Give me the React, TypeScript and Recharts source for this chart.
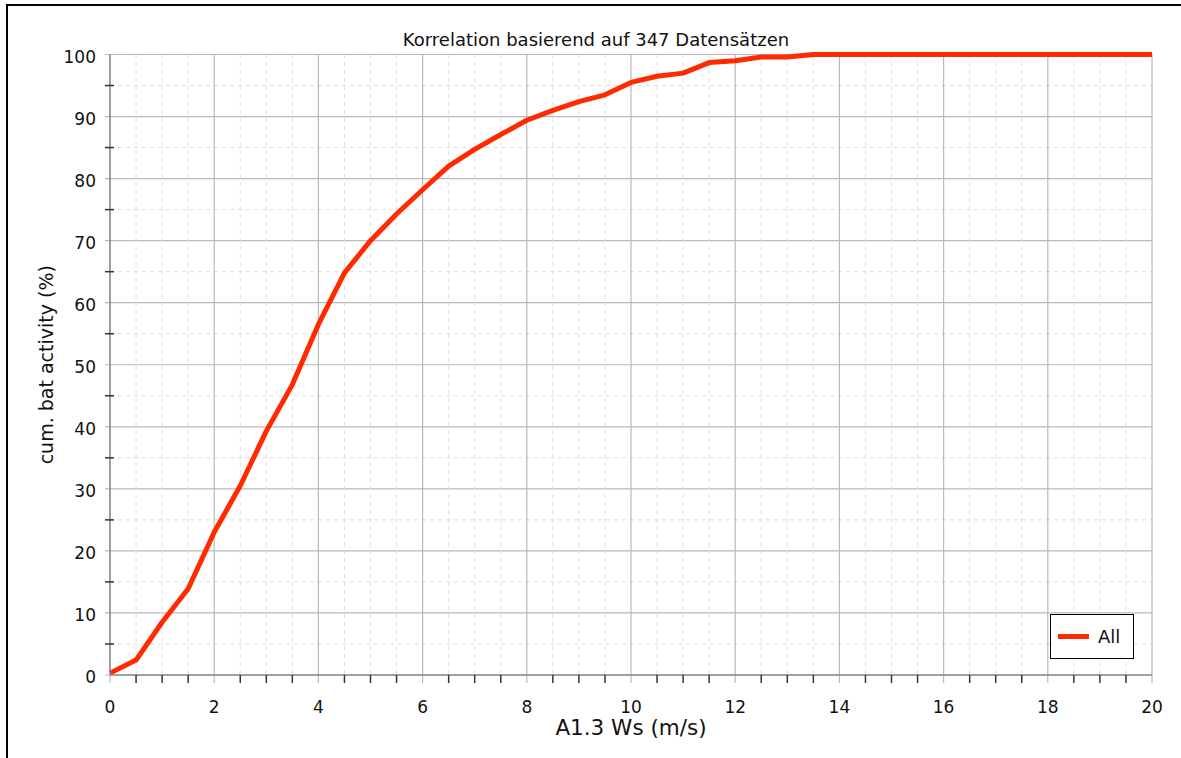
import React from 'react';
import { LineChart, Line, XAxis, YAxis, CartesianGrid, Legend } from 'recharts';

const windSpeed = [
  0, 0.5, 1, 1.5, 2, 2.5, 3, 3.5, 4, 4.5, 5, 5.5, 6, 6.5, 7, 7.5, 8, 8.5, 9, 9.5, 10,
  10.5, 11, 11.5, 12, 12.5, 13, 13.5, 14, 14.5, 15, 15.5, 16, 16.5, 17, 17.5, 18, 18.5, 19, 19.5, 20,
];
const cumActivity = [
  0.3, 2.4, 8.5, 13.9, 23, 30.5, 39.3, 46.8, 56.5, 64.8, 70, 74.3, 78.2, 82, 84.7, 87.1, 89.4, 91, 92.4, 93.5, 95.5,
  96.5, 97, 98.7, 99, 99.6, 99.6, 100, 100, 100, 100, 100, 100, 100, 100, 100, 100, 100, 100, 100, 100,
];
const xTicks = [
  0, 0.5, 1, 1.5, 2, 2.5, 3, 3.5, 4, 4.5, 5, 5.5, 6, 6.5, 7, 7.5, 8, 8.5, 9, 9.5, 10,
  10.5, 11, 11.5, 12, 12.5, 13, 13.5, 14, 14.5, 15, 15.5, 16, 16.5, 17, 17.5, 18, 18.5, 19, 19.5, 20,
];
const yTicks = [0, 5, 10, 15, 20, 25, 30, 35, 40, 45, 50, 55, 60, 65, 70, 75, 80, 85, 90, 95, 100];
const seriesName = 'All';

const data = windSpeed.map((ws, i) => ({ ws, activity: cumActivity[i] }));

const FONT = '"DejaVu Sans", Verdana, sans-serif';
const RED = '#ff2a00';
const MAJOR = '#b9b9b9';
const MINOR = '#dcdcdc';
const TICK = '#333';
const X_MARGIN = 10;
const Y_MARGIN = 14;

const XTick = (props: any) => {
  const { x, y, payload } = props;
  const major = payload.value % 2 === 0;
  const axisY = y - X_MARGIN;
  return (
    <g>
      {!major && <line x1={x} x2={x} y1={axisY} y2={axisY + 8} stroke={TICK} strokeWidth={1.5} />}
      {major && (
        <text x={x} y={axisY + 38} textAnchor="middle" fontSize={17} fontFamily={FONT} fill="#111">
          {payload.value}
        </text>
      )}
    </g>
  );
};

const YTick = (props: any) => {
  const { x, y, payload } = props;
  const major = payload.value % 10 === 0;
  const axisX = x + Y_MARGIN;
  return (
    <g>
      {!major && <line x1={axisX - 5} x2={axisX + 4} y1={y} y2={y} stroke={TICK} strokeWidth={1.5} />}
      {major && (
        <text x={x} y={y + 8} textAnchor="end" fontSize={17} fontFamily={FONT} fill="#111">
          {payload.value}
        </text>
      )}
    </g>
  );
};

const vLine = (p: any) => {
  const major = p.index % 4 === 0;
  return (
    <line
      key={p.key}
      x1={p.x1}
      x2={p.x2}
      y1={p.y1}
      y2={major ? p.y2 + 8 : p.y2}
      stroke={major ? MAJOR : MINOR}
      strokeWidth={major ? 1.2 : 1}
      strokeDasharray={major ? undefined : '4 4'}
    />
  );
};

const hLine = (p: any) => {
  const major = p.index % 2 === 0;
  return (
    <line
      key={p.key}
      x1={major ? p.x1 - 5 : p.x1}
      x2={p.x2}
      y1={p.y1}
      y2={p.y2}
      stroke={major ? MAJOR : MINOR}
      strokeWidth={major ? 1.2 : 1}
      strokeDasharray={major ? undefined : '4 4'}
    />
  );
};

const LegendBox = () => (
  <div
    style={{
      width: 82,
      height: 43,
      border: '1.5px solid #000',
      background: '#fff',
      display: 'flex',
      alignItems: 'center',
      fontFamily: FONT,
      fontSize: 18,
      color: '#111',
    }}
  >
    <div style={{ width: 31, height: 5, background: RED, marginLeft: 7, marginRight: 9 }} />
    <span>{seriesName}</span>
  </div>
);

export default function App() {
  return (
    <div
      style={{
        position: 'absolute',
        left: 0,
        top: 0,
        width: 1181,
        height: 758,
        background: '#fff',
        overflow: 'hidden',
        fontFamily: FONT,
      }}
    >
      <div
        style={{
          position: 'absolute',
          left: 6,
          top: 4,
          right: -10,
          bottom: -10,
          borderLeft: '2px solid #000',
          borderTop: '2px solid #000',
        }}
      />
      <div
        style={{
          position: 'absolute',
          left: 0,
          top: 29,
          width: 1192,
          textAlign: 'center',
          fontSize: 18,
          color: '#111',
          zIndex: 2,
        }}
      >
        Korrelation basierend auf 347 Datensätzen
      </div>
      <div style={{ position: 'absolute', left: 0, top: 0 }}>
        <LineChart width={1181} height={758} data={data} margin={{ top: 54.5, right: 29, bottom: 0, left: 0 }}>
          <CartesianGrid syncWithTicks vertical={vLine} horizontal={hLine} />
          <XAxis
            dataKey="ws"
            type="number"
            domain={[0, 20]}
            ticks={xTicks}
            interval={0}
            height={83}
            tickSize={0}
            tickMargin={X_MARGIN}
            tick={<XTick />}
            axisLine={{ stroke: '#8c8c8c', strokeWidth: 1.5 }}
            label={{
              content: (p: any) => (
                <text
                  x={p.viewBox.x + p.viewBox.width / 2}
                  y={p.viewBox.y + 60}
                  textAnchor="middle"
                  fontSize={21.5}
                  fontFamily={FONT}
                  fill="#111"
                >
                  A1.3 Ws (m/s)
                </text>
              ),
            }}
          />
          <YAxis
            type="number"
            domain={[0, 100]}
            ticks={yTicks}
            interval={0}
            width={110}
            tickSize={0}
            tickMargin={Y_MARGIN}
            tick={<YTick />}
            axisLine={{ stroke: '#8c8c8c', strokeWidth: 1.5 }}
            label={{
              content: (p: any) => {
                const cx = 53;
                const cy = p.viewBox.y + p.viewBox.height / 2;
                return (
                  <text
                    x={cx}
                    y={cy}
                    transform={`rotate(-90 ${cx} ${cy})`}
                    textAnchor="middle"
                    fontSize={19}
                    fontFamily={FONT}
                    fill="#111"
                  >
                    cum. bat activity (%)
                  </text>
                );
              },
            }}
          />
          <Legend
            layout="horizontal"
            align="center"
            verticalAlign="middle"
            content={() => <LegendBox />}
            wrapperStyle={{ left: 1050, top: 614, width: 85, height: 46 }}
          />
          <Line
            type="linear"
            dataKey="activity"
            name={seriesName}
            stroke={RED}
            strokeWidth={5}
            strokeLinejoin="round"
            dot={false}
            activeDot={false}
            isAnimationActive={false}
          />
        </LineChart>
      </div>
    </div>
  );
}
